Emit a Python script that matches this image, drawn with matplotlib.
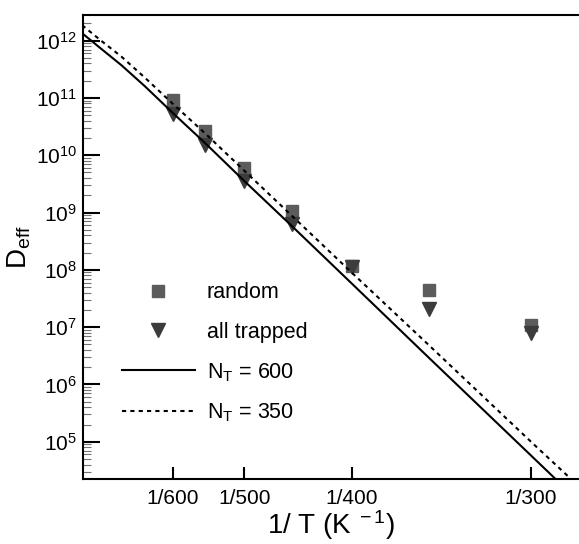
import numpy as np
import matplotlib
matplotlib.use("Agg")
import matplotlib.pyplot as plt
from matplotlib.ticker import LogLocator, NullFormatter, NullLocator

plt.rcParams['font.family'] = ['Liberation Sans', 'DejaVu Sans']
plt.rcParams['mathtext.fontset'] = 'custom'
plt.rcParams['mathtext.rm'] = 'Liberation Sans'
plt.rcParams['mathtext.it'] = 'Liberation Sans:italic'
plt.rcParams['mathtext.bf'] = 'Liberation Sans:bold'

# simulation points (temperature in K)
T_sim = [600, 550, 500, 450, 400, 350, 300]
D_random = [9.2e10, 2.7e10, 6.1e9, 1.05e9, 1.15e8, 4.5e7, 1.1e7]
D_trapped = [5.3e10, 1.5e10, 3.6e9, 6.4e8, 1.1e8, 2.1e7, 7.9e6]

# model curves, log10(D_eff)
T_line = [803, 750, 700, 650, 600, 550, 500, 450, 400, 350, 300, 283]
logD_600 = [12.13, 11.86, 11.57, 11.20, 10.74, 10.21, 9.55, 8.76, 7.76, 6.47, 4.76, 4.04]
logD_350 = [12.27, 12.00, 11.72, 11.35, 10.90, 10.38, 9.73, 8.94, 7.95, 6.69, 5.00, 4.30]

x_ticks_T = [600, 500, 400, 300]

fig = plt.figure(figsize=(5.79, 5.44), dpi=100)
ax = fig.add_axes([0.1428, 0.1195, 0.8572, 0.8524])

inv = lambda T: 1.0 / np.array(T, dtype=float)

ax.plot(inv(T_sim), D_random, linestyle='none', marker='s', ms=8.6,
        color='#5c5c5c', label='random', zorder=2)
ax.plot(inv(T_sim), D_trapped, linestyle='none', marker='v', ms=9.6,
        color='#3c3c3c', label='all trapped', zorder=2)
ax.plot(inv(T_line), 10 ** np.array(logD_600), color='black', lw=1.5,
        label=r'N$_{\rm T}$ = 600', zorder=3)
ax.plot(inv(T_line), 10 ** np.array(logD_350), color='black', lw=1.5,
        linestyle=(0, (2, 2)), label=r'N$_{\rm T}$ = 350', zorder=3)

ax.set_yscale('log')
ax.set_xlim(0.001248, 0.0035565)
ax.set_ylim(2.24e4, 2.77e12)

ax.set_xticks(inv(x_ticks_T))
ax.set_xticklabels(['1/%d' % t for t in x_ticks_T])
ax.xaxis.set_minor_locator(NullLocator())

ax.yaxis.set_major_locator(LogLocator(base=10, numticks=20))
ax.yaxis.set_minor_locator(LogLocator(base=10, subs=np.arange(2, 10), numticks=20))
ax.yaxis.set_minor_formatter(NullFormatter())

ax.tick_params(axis='both', which='major', direction='in', length=9, width=1.5,
               labelsize=15)
ax.tick_params(axis='x', which='major', pad=7)
ax.tick_params(axis='y', which='major', length=12, pad=4)
ax.tick_params(axis='y', which='minor', direction='in', length=6, width=0.8,
               color='0.45')

for s in ['left', 'bottom', 'top']:
    ax.spines[s].set_linewidth(1.5)
ax.spines['right'].set_visible(False)

ax.set_xlabel(r'1/ T (K$^{\ -1}$)', fontsize=20, labelpad=0)
ax.set_ylabel(r'D$_{\rm eff}$', fontsize=20, labelpad=2)

ax.legend(loc='upper left', bbox_to_anchor=(0.079, 0.424), frameon=False,
          fontsize=15.5, numpoints=1, handlelength=3.4, handletextpad=0.55,
          labelspacing=0.85, borderpad=0, borderaxespad=0)

fig.savefig('out.png', dpi=100)
